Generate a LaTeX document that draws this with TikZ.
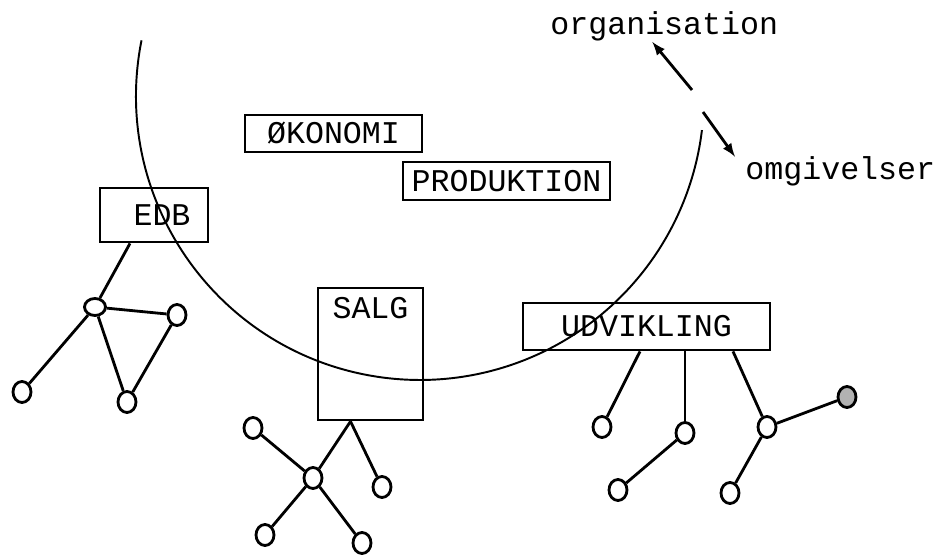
\documentclass[tikz,border=0pt]{standalone}
\usepackage{fontspec}
\setmonofont{Liberation Mono}
\usetikzlibrary{shapes.geometric}
\tikzset{>=latex}

\begin{document}
\begin{tikzpicture}[font=\ttfamily\fontsize{18}{20}\selectfont]
\useasboundingbox (0,0) rectangle (18.82,11.12);
% the big circle line
\coordinate (C) at (8.4,9.2);
\draw [line width=1.1pt] ([shift={(168.7:5.68)}]C) arc [start angle=168.7, end angle=353.1, radius=5.68];

\begin{scope}[every node/.style={draw,rectangle,line width=1.6pt,inner sep=0pt}]
\node [minimum width=2.16cm,minimum height=1.08cm] (EDB) at (3.08,6.82) {\hspace{.32cm}EDB};
\node [minimum width=3.54cm,minimum height=.74cm] (OKO) at (6.67,8.45) {ØKONOMI};
\node [minimum width=4.14cm,minimum height=.76cm] (PROD) at (10.13,7.5) {PRODUKTION};
\node [minimum width=2.1cm,text height=.62cm,text depth=2.02cm] (SALG) at (7.41,4.04) {SALG};
\node [minimum width=4.94cm,minimum height=.94cm] (UDV) at (12.93,4.59) {UDVIKLING};
\end{scope}

\begin{scope}[every node/.style={ellipse,draw,line width=1.6pt,fill=white,minimum width=.36cm,minimum height=.42cm,inner sep=0pt}]
\node [minimum width=.42cm,minimum height=.34cm] (E1) at (1.9,4.98) {};
\node (E2) at (3.54,4.82) {};
\node (E3) at (2.54,3.08) {};
\node (E4) at (0.44,3.28) {};
\node (S1) at (6.26,1.56) {};
\node (S2) at (5.06,2.56) {};
\node (S3) at (7.64,1.38) {};
\node (S4) at (5.3,0.42) {};
\node (S5) at (7.24,0.26) {};
\node (U1) at (12.04,2.58) {};
\node (U2) at (13.7,2.46) {};
\node (U3) at (15.34,2.58) {};
\node [fill=gray!60] (U4) at (16.94,3.18) {};
\node (U5) at (12.36,1.32) {};
\node (U6) at (14.6,1.26) {};
\end{scope}

\node [anchor=base west,inner sep=0pt] (org) at (11.0,10.42) {organisation};
\node [anchor=base west,inner sep=0pt] (omg) at (14.9,7.52) {omgivelser};
\coordinate (orgtail) at (13.84,9.32);
\coordinate (omgtail) at (14.06,8.88);

\begin{scope}[every edge/.style={draw=black,line width=1.6pt}]
    \path ([xshift=-.48cm]EDB.south) edge (E1);
    \path (E1) edge (E2);
    \path (E1) edge (E3);
    \path (E2) edge (E3);
    \path (E1) edge (E4);

    \path ([xshift=-.4cm]SALG.south) edge (S1);
    \path ([xshift=-.4cm]SALG.south) edge (S3);
    \path (S2) edge (S1);
    \path (S1) edge (S5);
    \path (S1) edge (S4);

    \path ([xshift=-.13cm]UDV.south) edge (U1);
    \path ([xshift=.77cm]UDV.south) edge (U2);
    \path ([xshift=1.73cm]UDV.south) edge (U3);
    \path (U2) edge (U5);
    \path (U3) edge (U6);
    \path (U3) edge (U4);

    \path [->,line width=1.3pt] (orgtail) edge ([xshift=-.24cm]org.south);
    \path [->,line width=1.3pt] (omgtail) edge ([xshift=-.2cm]omg.north west);
\end{scope}
\end{tikzpicture}
\end{document}
